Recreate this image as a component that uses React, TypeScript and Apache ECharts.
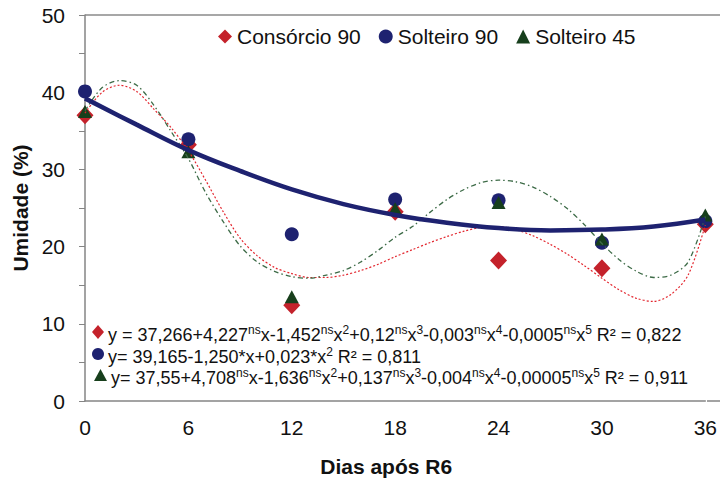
import React, { useEffect, useRef } from "react";
import * as echarts from "echarts";

// Observed values
const days = [0, 6, 12, 18, 24, 30, 36];
const consorcio90 = [37.0, 33.2, 12.4, 24.5, 18.2, 17.2, 22.9];
const solteiro90 = [40.1, 33.9, 21.6, 26.1, 26.0, 20.5, 23.3];
const solteiro45 = [37.5, 32.3, 13.5, 24.9, 25.7, 21.0, 24.1];

// Fitted trend curves
const trendDays = [
  0, 1, 2, 3, 4, 5, 6, 7, 8, 9, 10, 11, 12, 13, 14, 15, 16, 17, 18,
  19, 20, 21, 22, 23, 24, 25, 26, 27, 28, 29, 30, 31, 32, 33, 34, 35, 36,
];
const trendConsorcio90 = [
  37.3, 40.0, 40.9, 40.1, 37.8, 35.4, 32.4, 28.6, 24.6, 21.1, 18.8, 17.3,
  16.5, 16.0, 16.0, 16.3, 16.9, 17.7, 18.7, 19.6, 20.5, 21.3, 22.0, 22.5,
  22.6, 22.2, 21.4, 20.3, 19.0, 17.5, 15.9, 14.4, 13.3, 12.9, 13.8, 16.3,
  22.8,
];
const trendSolteiro45 = [
  37.6, 40.6, 41.5, 40.9, 38.3, 34.9, 31.4, 27.0, 23.3, 20.1, 18.0, 16.8,
  16.1, 15.9, 16.3, 16.9, 18.0, 19.5, 21.2, 22.6, 24.4, 26.1, 27.4, 28.3,
  28.6, 28.4, 27.7, 26.5, 24.9, 22.8, 20.4, 18.3, 16.8, 16.0, 16.3, 18.0,
  23.9,
];
const quadDays = [0, 3, 6, 9, 12, 15, 18, 21, 24, 27, 30, 33, 36];
const trendSolteiro90 = [
  39.2, 35.8, 32.5, 29.8, 27.4, 25.5, 24.1, 23.1, 22.4, 22.1, 22.2, 22.6, 23.5,
];

const seriesNames = ["Consórcio 90", "Solteiro 90", "Solteiro 45"];
const equations = [
  "y = 37,266+4,227{s|ns}x-1,452{s|ns}x{s|2}+0,12{s|ns}x{s|3}-0,003{s|ns}x{s|4}-0,0005{s|ns}x{s|5} R² = 0,822",
  "y= 39,165-1,250*x+0,023*x{s|2} R² = 0,811",
  "y= 37,55+4,708{s|ns}x-1,636{s|ns}x{s|2}+0,137{s|ns}x{s|3}-0,004{s|ns}x{s|4}-0,00005{s|ns}x{s|5} R² = 0,911",
];

const RED = "#c4222b";
const NAVY = "#1e2270";
const GREEN = "#173f1c";
const FONT = "Liberation Sans, Arial, sans-serif";

const pairs = (xs: number[], ys: number[]) => xs.map((x, i) => [x, ys[i]]);

export default function App() {
  const ref = useRef<HTMLDivElement>(null);
  useEffect(() => {
    if (!ref.current) return;
    const chart = echarts.init(ref.current, undefined, { renderer: "svg" });
    const eqY = [335, 356.5, 377.5];
    const eqGraphics: any[] = [];
    equations.forEach((t, i) => {
      eqGraphics.push({
        type: "text",
        left: i === 2 ? 111 : 108,
        top: eqY[i] - 11,
        style: {
          text: t,
          font: `18px ${FONT}`,
          fill: "#111",
          lineHeight: 22,
          rich: {
            s: { fontSize: 12, fontFamily: FONT, verticalAlign: "top", lineHeight: 12, fill: "#111" },
          },
        },
      });
    });
    const option: any = {
      animation: false,
      backgroundColor: "#fff",
      textStyle: { fontFamily: FONT },
      grid: { left: 85, top: 15, right: 13, bottom: 81, containLabel: false },
      legend: {
        data: seriesNames,
        left: 213,
        top: 21,
        itemWidth: 14,
        itemHeight: 14,
        itemGap: 18,
        textStyle: { fontSize: 21, color: "#111", fontFamily: FONT },
      },
      xAxis: {
        type: "value",
        min: 0,
        max: 36,
        interval: 6,
        name: "Dias após R6",
        nameLocation: "middle",
        nameGap: 55,
        nameTextStyle: { fontSize: 21, fontWeight: "bold", color: "#111", padding: [0, 18, 0, 0] },
        axisLine: { lineStyle: { color: "#858585", width: 1.5 } },
        axisTick: { show: false },
        splitLine: { show: false },
        axisLabel: { fontSize: 21, color: "#111", margin: 16 },
      },
      yAxis: {
        type: "value",
        min: 0,
        max: 50,
        interval: 5,
        name: "Umidade (%)",
        nameLocation: "middle",
        nameGap: 52,
        nameTextStyle: { fontSize: 21, fontWeight: "bold", color: "#111" },
        axisLine: { show: true, lineStyle: { color: "#858585", width: 1.5 } },
        axisTick: { show: true, length: 6, lineStyle: { color: "#858585" } },
        splitLine: { show: false },
        axisLabel: {
          fontSize: 21,
          color: "#111",
          margin: 20,
          formatter: (v: number) => (v % 10 === 0 ? String(v) : ""),
        },
      },
      graphic: [
        { type: "line", shape: { x1: 85, y1: 15, x2: 720, y2: 15 }, style: { stroke: "#8a8a8a", lineWidth: 1.5 } },
        { type: "line", shape: { x1: 707, y1: 401, x2: 720, y2: 401 }, style: { stroke: "#858585", lineWidth: 1.5 } },
        { type: "polygon", shape: { points: [[98, 325], [104, 332], [98, 339], [92, 332]] }, style: { fill: RED } },
        { type: "circle", shape: { cx: 98, cy: 354, r: 6 }, style: { fill: NAVY } },
        { type: "polygon", shape: { points: [[100.5, 369], [107, 381], [94, 381]] }, style: { fill: GREEN } },
        ...eqGraphics,
      ],
      series: [
        {
          name: seriesNames[0],
          type: "scatter",
          symbol: "diamond",
          symbolSize: [17, 18],
          itemStyle: { color: RED, opacity: 1 },
          data: pairs(days, consorcio90),
          z: 2,
        },
        {
          name: seriesNames[1],
          type: "scatter",
          symbol: "circle",
          symbolSize: 14,
          itemStyle: { color: NAVY, opacity: 1 },
          data: pairs(days, solteiro90),
          z: 3,
        },
        {
          name: seriesNames[2],
          type: "scatter",
          symbol: "triangle",
          symbolSize: [14, 13],
          itemStyle: { color: GREEN, opacity: 1 },
          data: pairs(days, solteiro45),
          z: 4,
        },
        {
          name: "Tendência Consórcio 90",
          type: "line",
          smooth: 0.3,
          showSymbol: false,
          symbol: "none",
          lineStyle: { color: "#e3262e", width: 1.2, type: [2, 2] },
          data: pairs(trendDays, trendConsorcio90),
          z: 5,
        },
        {
          name: "Tendência Solteiro 45",
          type: "line",
          smooth: 0.3,
          showSymbol: false,
          symbol: "none",
          lineStyle: { color: "#3d6b47", width: 1.3, type: [5, 3, 1.5, 3] },
          data: pairs(trendDays, trendSolteiro45),
          z: 5,
        },
        {
          name: "Tendência Solteiro 90",
          type: "line",
          smooth: 0.4,
          showSymbol: false,
          symbol: "none",
          lineStyle: { color: NAVY, width: 4.5 },
          data: pairs(quadDays, trendSolteiro90),
          z: 6,
        },
      ],
    };
    chart.setOption(option);
    return () => chart.dispose();
  }, []);
  return <div ref={ref} style={{ width: 720, height: 482, position: "absolute", left: 0, top: 0 }} />;
}
